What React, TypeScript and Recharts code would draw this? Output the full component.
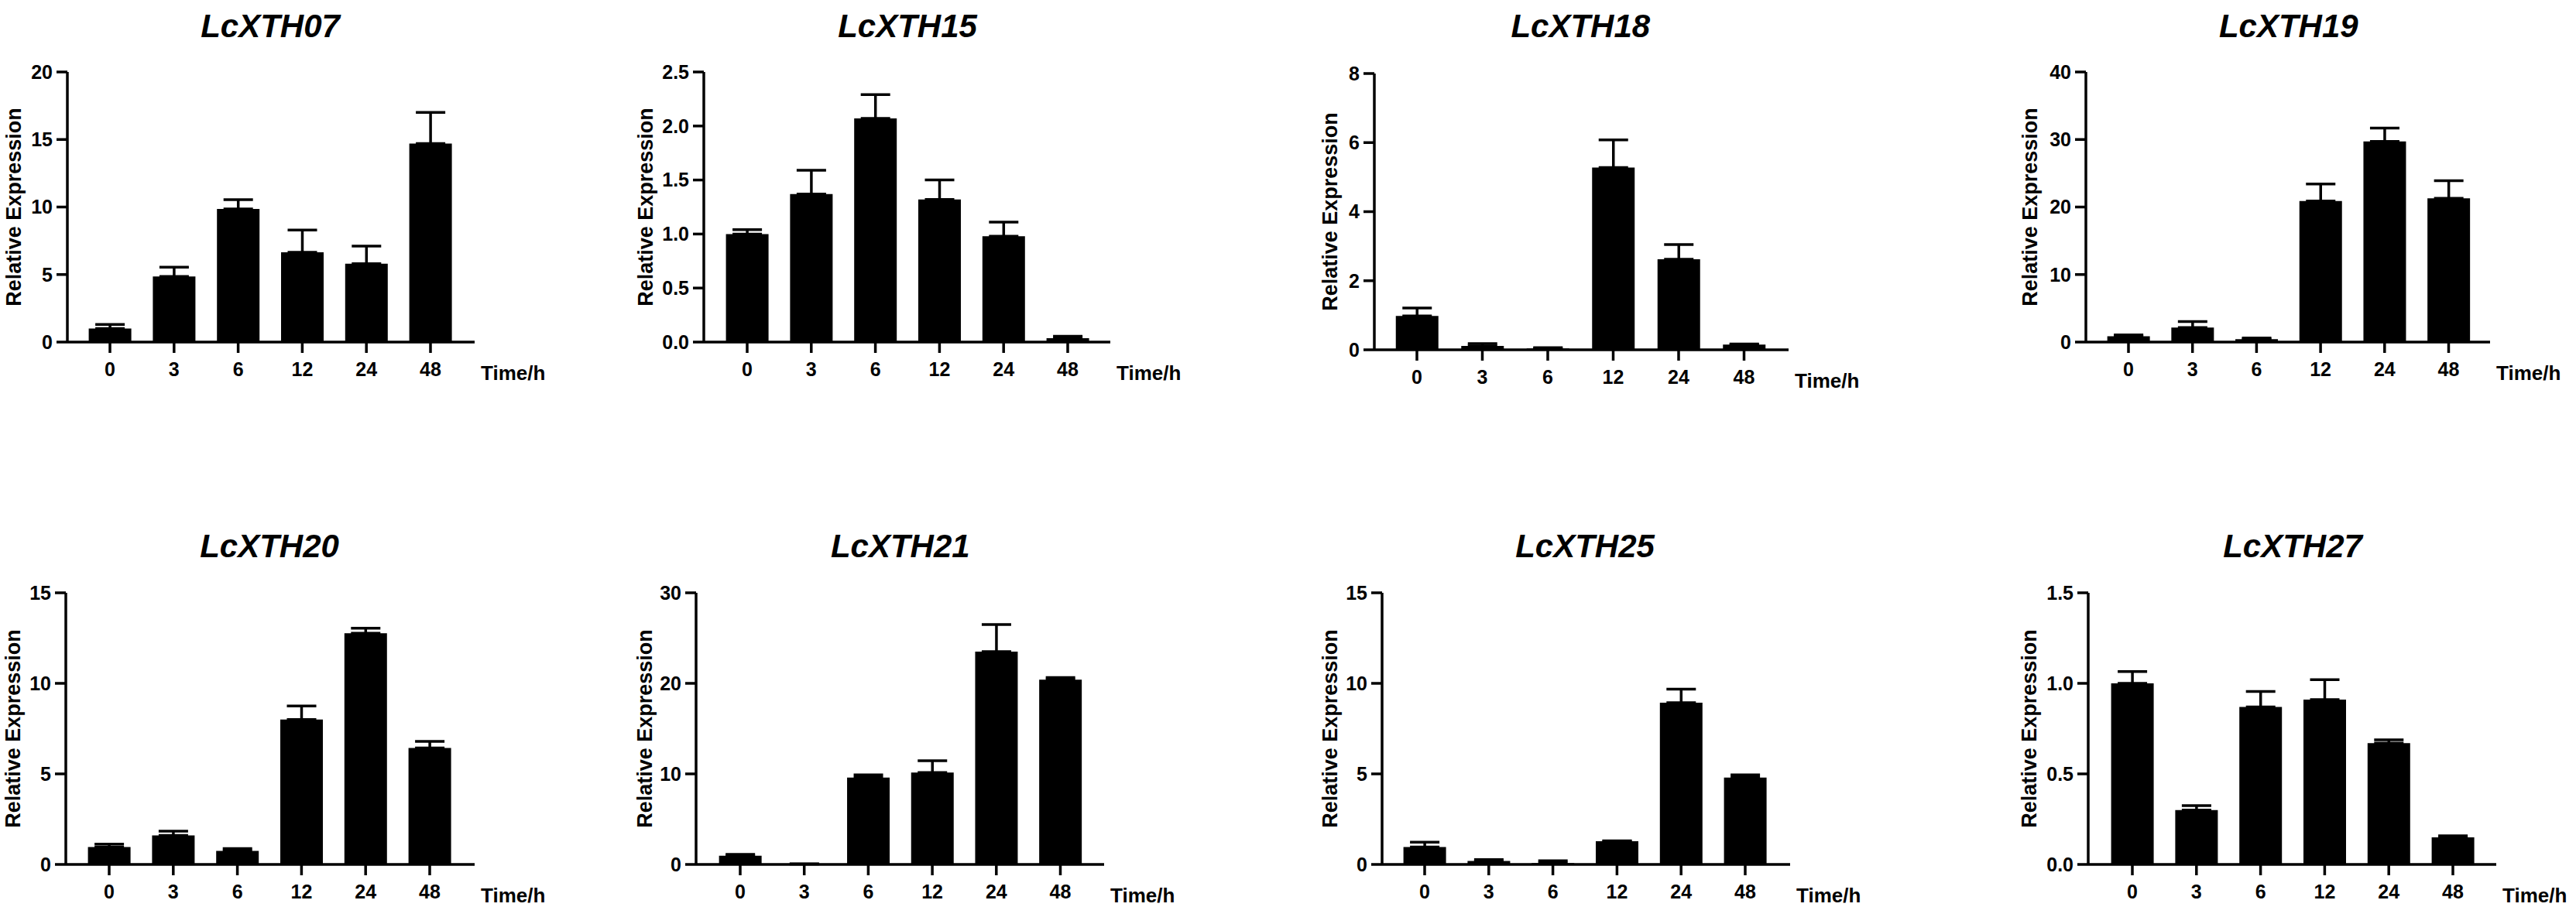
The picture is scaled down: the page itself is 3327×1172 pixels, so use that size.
import React from 'react';
import { BarChart, Bar, XAxis, YAxis, ErrorBar, Label } from 'recharts';

// sampling times (h)
const times = ['0', '3', '6', '12', '24', '48'];

// mean relative expression and SD (upper error only)
const xth07 = [1.0, 4.85, 9.85, 6.65, 5.8, 14.7];
const xth07Err = [0.3, 0.7, 0.7, 1.65, 1.3, 2.3];
const xth15 = [1.0, 1.37, 2.07, 1.32, 0.98, 0.035];
const xth15Err = [0.04, 0.22, 0.22, 0.18, 0.13, 0.018];
const xth18 = [0.98, 0.11, 0.04, 5.28, 2.62, 0.15];
const xth18Err = [0.23, 0.07, 0.02, 0.8, 0.43, 0.02];
const xth19 = [0.85, 2.15, 0.43, 20.9, 29.7, 21.3];
const xth19Err = [0.2, 0.9, 0.17, 2.5, 2.0, 2.6];
const xth20 = [0.96, 1.6, 0.75, 8.0, 12.77, 6.43];
const xth20Err = [0.16, 0.24, 0.13, 0.75, 0.27, 0.37];
const xth21 = [0.96, 0.05, 9.6, 10.15, 23.5, 20.4];
const xth21Err = [0.16, 0.02, 0.3, 1.3, 3.0, 0.25];
const xth25 = [0.96, 0.19, 0.08, 1.28, 8.93, 4.8];
const xth25Err = [0.27, 0.08, 0.12, 0.02, 0.75, 0.15];
const xth27 = [1.0, 0.3, 0.87, 0.91, 0.67, 0.15];
const xth27Err = [0.065, 0.025, 0.085, 0.11, 0.018, 0.008];

// y axis ticks
const ticks07 = [0, 5, 10, 15, 20];
const ticks15 = [0, 0.5, 1.0, 1.5, 2.0, 2.5];
const ticks18 = [0, 2, 4, 6, 8];
const ticks19 = [0, 10, 20, 30, 40];
const ticks20 = [0, 5, 10, 15];
const ticks21 = [0, 10, 20, 30];
const ticks25 = [0, 5, 10, 15];
const ticks27 = [0, 0.5, 1.0, 1.5];

const genes = [
  { name: 'LcXTH07', values: xth07, errs: xth07Err, ticks: ticks07, dec: 0 },
  { name: 'LcXTH15', values: xth15, errs: xth15Err, ticks: ticks15, dec: 1 },
  { name: 'LcXTH18', values: xth18, errs: xth18Err, ticks: ticks18, dec: 0 },
  { name: 'LcXTH19', values: xth19, errs: xth19Err, ticks: ticks19, dec: 0 },
  { name: 'LcXTH20', values: xth20, errs: xth20Err, ticks: ticks20, dec: 0 },
  { name: 'LcXTH21', values: xth21, errs: xth21Err, ticks: ticks21, dec: 0 },
  { name: 'LcXTH25', values: xth25, errs: xth25Err, ticks: ticks25, dec: 0 },
  { name: 'LcXTH27', values: xth27, errs: xth27Err, ticks: ticks27, dec: 1 },
];

// where each panel sits on the page
const layout = [
  { axisX: 87, top: 93, bottom: 442, len: 526, band: 82.8, first: 55, labelDist: 69, titleY: 49 },
  { axisX: 909, top: 93, bottom: 442, len: 525, band: 82.8, first: 56, labelDist: 75, titleY: 49 },
  { axisX: 1775, top: 95, bottom: 452, len: 535, band: 84.5, first: 55, labelDist: 57, titleY: 49 },
  { axisX: 2694, top: 93, bottom: 442, len: 522, band: 82.7, first: 55, labelDist: 72, titleY: 49 },
  { axisX: 85, top: 766, bottom: 1117, len: 528, band: 82.8, first: 56, labelDist: 68, titleY: 721 },
  { axisX: 899, top: 766, bottom: 1117, len: 527, band: 82.7, first: 57, labelDist: 66, titleY: 721 },
  { axisX: 1785, top: 766, bottom: 1117, len: 527, band: 82.8, first: 55, labelDist: 67, titleY: 721 },
  { axisX: 2697, top: 766, bottom: 1117, len: 527, band: 82.8, first: 57, labelDist: 76, titleY: 721 },
];

const FONT = 'Arial, "Liberation Sans", Helvetica, sans-serif';
const axisStroke = { stroke: '#000', strokeWidth: 3.5 };
const tickFont = { fontSize: 25, fontWeight: 'bold', fill: '#000', fontFamily: FONT };

function Panel({ gene, pos }: { gene: any; pos: any }) {
  const data = times.map((t, i) => ({ time: t, value: gene.values[i], err: [0, gene.errs[i]] }));
  const yW = 130;
  const mTop = 30;
  const mRight = 110;
  const xH = 70;
  const plotH = pos.bottom - pos.top;
  const padL = pos.first - pos.band / 2;
  const padR = pos.len - padL - pos.band * times.length;
  const cx = pos.axisX + pos.first + pos.band * 2.5;
  const max = gene.ticks[gene.ticks.length - 1];

  return (
    <>
      <div
        style={{
          position: 'absolute',
          left: cx - 300,
          width: 600,
          top: pos.titleY - 36,
          textAlign: 'center',
          fontFamily: FONT,
          fontStyle: 'italic',
          fontWeight: 'bold',
          fontSize: 42,
          lineHeight: '42px',
          color: '#000',
        }}
      >
        {gene.name}
      </div>
      <div style={{ position: 'absolute', left: pos.axisX - yW, top: pos.top - mTop }}>
        <BarChart
          width={yW + pos.len + mRight}
          height={mTop + plotH + xH}
          data={data}
          margin={{ top: mTop, right: mRight, left: 0, bottom: 0 }}
        >
          <XAxis
            dataKey="time"
            height={xH}
            padding={{ left: padL, right: padR }}
            axisLine={axisStroke}
            tickLine={axisStroke}
            tickSize={14}
            tickMargin={12}
            tick={tickFont}
            interval={0}
          >
            <Label
              content={(p: any) => {
                const vb = p.viewBox;
                return (
                  <text
                    x={vb.x + vb.width + 8}
                    y={vb.y + 49}
                    fontSize={26}
                    fontWeight="bold"
                    fontFamily={FONT}
                    fill="#000"
                  >
                    Time/h
                  </text>
                );
              }}
            />
          </XAxis>
          <YAxis
            type="number"
            width={yW}
            domain={[0, max]}
            ticks={gene.ticks}
            interval={0}
            axisLine={axisStroke}
            tickLine={axisStroke}
            tickSize={14}
            tickMargin={5}
            tick={tickFont}
            tickFormatter={(v: number) => v.toFixed(gene.dec)}
          >
            <Label
              content={(p: any) => {
                const vb = p.viewBox;
                const x = vb.x + vb.width - pos.labelDist;
                const y = vb.y + vb.height / 2;
                return (
                  <text
                    x={x}
                    y={y}
                    transform={`rotate(-90 ${x} ${y})`}
                    textAnchor="middle"
                    dominantBaseline="central"
                    fontSize={27}
                    fontWeight="bold"
                    fontFamily={FONT}
                    fill="#000"
                  >
                    Relative Expression
                  </text>
                );
              }}
            />
          </YAxis>
          <Bar dataKey="value" fill="#000" barSize={55} isAnimationActive={false}>
            <ErrorBar
              dataKey="err"
              direction="y"
              width={19}
              stroke="#000"
              strokeWidth={3.5}
              isAnimationActive={false}
            />
          </Bar>
        </BarChart>
      </div>
    </>
  );
}

export default function App() {
  return (
    <div
      style={{
        position: 'absolute',
        left: 0,
        top: 0,
        width: 3327,
        height: 1172,
        background: '#fff',
        overflow: 'hidden',
      }}
    >
      {genes.map((g, i) => (
        <Panel key={g.name} gene={g} pos={layout[i]} />
      ))}
    </div>
  );
}
